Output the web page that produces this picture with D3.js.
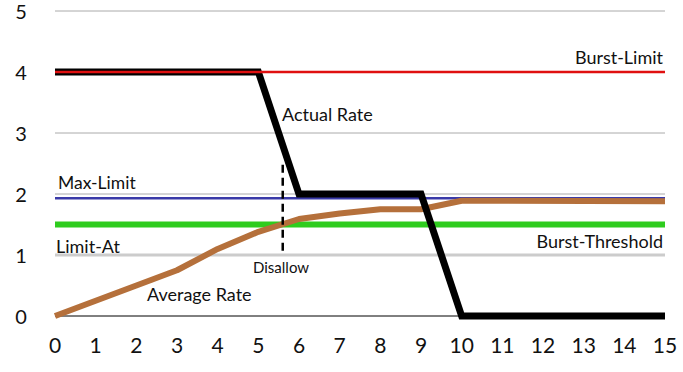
<!DOCTYPE html>
<html>
<head>
<meta charset="utf-8">
<script src="https://cdn.jsdelivr.net/npm/d3@7"></script>
<style>
  body { margin: 0; background: #fff; }
  svg { display: block; }
  text { font-family: Lato, "Open Sans", sans-serif; fill: #111; }
</style>
</head>
<body>
<div id="canvas"></div>
<script>
// DATA ========================================================================

var X_TICKS = d3.range(0, 16)
var Y_TICKS = [0, 1, 2, 3, 4, 5]
var GRID_LINES = [2, 3, 5]

var ACTUAL_X = [0, 5, 6, 9, 10, 15]
var ACTUAL_Y = [4, 4, 2, 2, 0, 0]

var AVERAGE_X = [0, 1, 2, 3, 4, 5, 6, 7, 8, 9, 10, 15]
var AVERAGE_Y = [0, 0.25, 0.5, 0.75, 1.1, 1.38, 1.59, 1.68, 1.75, 1.75, 1.89, 1.88]

var BURST_LIMIT = 4
var MAX_LIMIT = 1.93
var BURST_THRESHOLD = 1.5
var LIMIT_AT = 1
var DISALLOW_X = 5.6
var DISALLOW_Y = [1.0, 2.48]

// LAYOUT ======================================================================

var WIDTH = 683
var HEIGHT = 372

var x = d3.scaleLinear().domain([0, 15]).range([55, 665])
var y = d3.scaleLinear().domain([0, 5]).range([316, 11])

var svg = d3.select("#canvas").append("svg")
    .attr("width", WIDTH)
    .attr("height", HEIGHT)

function hline(v, color, width) {
    svg.append("line")
        .attr("x1", x(0)).attr("x2", x(15))
        .attr("y1", y(v)).attr("y2", y(v))
        .attr("stroke", color)
        .attr("stroke-width", width)
}

function label(t, px, py, size, anchor) {
    svg.append("text")
        .text(t)
        .attr("x", px).attr("y", py)
        .attr("font-size", size)
        .attr("text-anchor", anchor || "start")
}

// GRID ========================================================================

GRID_LINES.forEach(v => hline(v, "#aaa", 1))
hline(LIMIT_AT, "#ccc", 3)
hline(0, "#000", 1)

// Tick labels.
svg.selectAll(".ytick").data(Y_TICKS).enter().append("text")
    .attr("class", "ytick")
    .attr("x", 21).attr("y", d => y(d) + 8)
    .attr("text-anchor", "middle")
    .attr("font-size", 20)
    .text(d => d)

svg.selectAll(".xtick").data(X_TICKS).enter().append("text")
    .attr("class", "xtick")
    .attr("x", d => x(d)).attr("y", 353)
    .attr("text-anchor", "middle")
    .attr("font-size", 21)
    .text(d => d)

// SERIES ======================================================================

hline(BURST_THRESHOLD, "#2ecc1e", 6)
hline(MAX_LIMIT, "#3a3aa8", 2.5)

var line = d3.line().x(d => x(d[0])).y(d => y(d[1]))

svg.append("path")
    .datum(AVERAGE_X.map((d, i) => [d, AVERAGE_Y[i]]))
    .attr("d", line)
    .attr("fill", "none")
    .attr("stroke", "#b5703b")
    .attr("stroke-width", 6)
    .attr("stroke-linejoin", "round")

svg.append("path")
    .datum(ACTUAL_X.map((d, i) => [d, ACTUAL_Y[i]]))
    .attr("d", line)
    .attr("fill", "none")
    .attr("stroke", "#000")
    .attr("stroke-width", 7)

hline(BURST_LIMIT, "#e01010", 2.5)

// Disallow marker.
svg.append("line")
    .attr("x1", x(DISALLOW_X)).attr("x2", x(DISALLOW_X))
    .attr("y1", y(DISALLOW_Y[1])).attr("y2", y(DISALLOW_Y[0]))
    .attr("stroke", "#000")
    .attr("stroke-width", 2.5)
    .attr("stroke-dasharray", "8,5")

// LABELS ======================================================================

label("Burst-Limit", 663, 64, 18, "end")
label("Actual Rate", 282, 121, 18)
label("Max-Limit", 58, 189, 17.5)
label("Limit-At", 56, 253, 18)
label("Burst-Threshold", 663, 248, 18, "end")
label("Disallow", 253, 273, 15)
label("Average Rate", 147, 301, 18)
</script>
</body>
</html>
